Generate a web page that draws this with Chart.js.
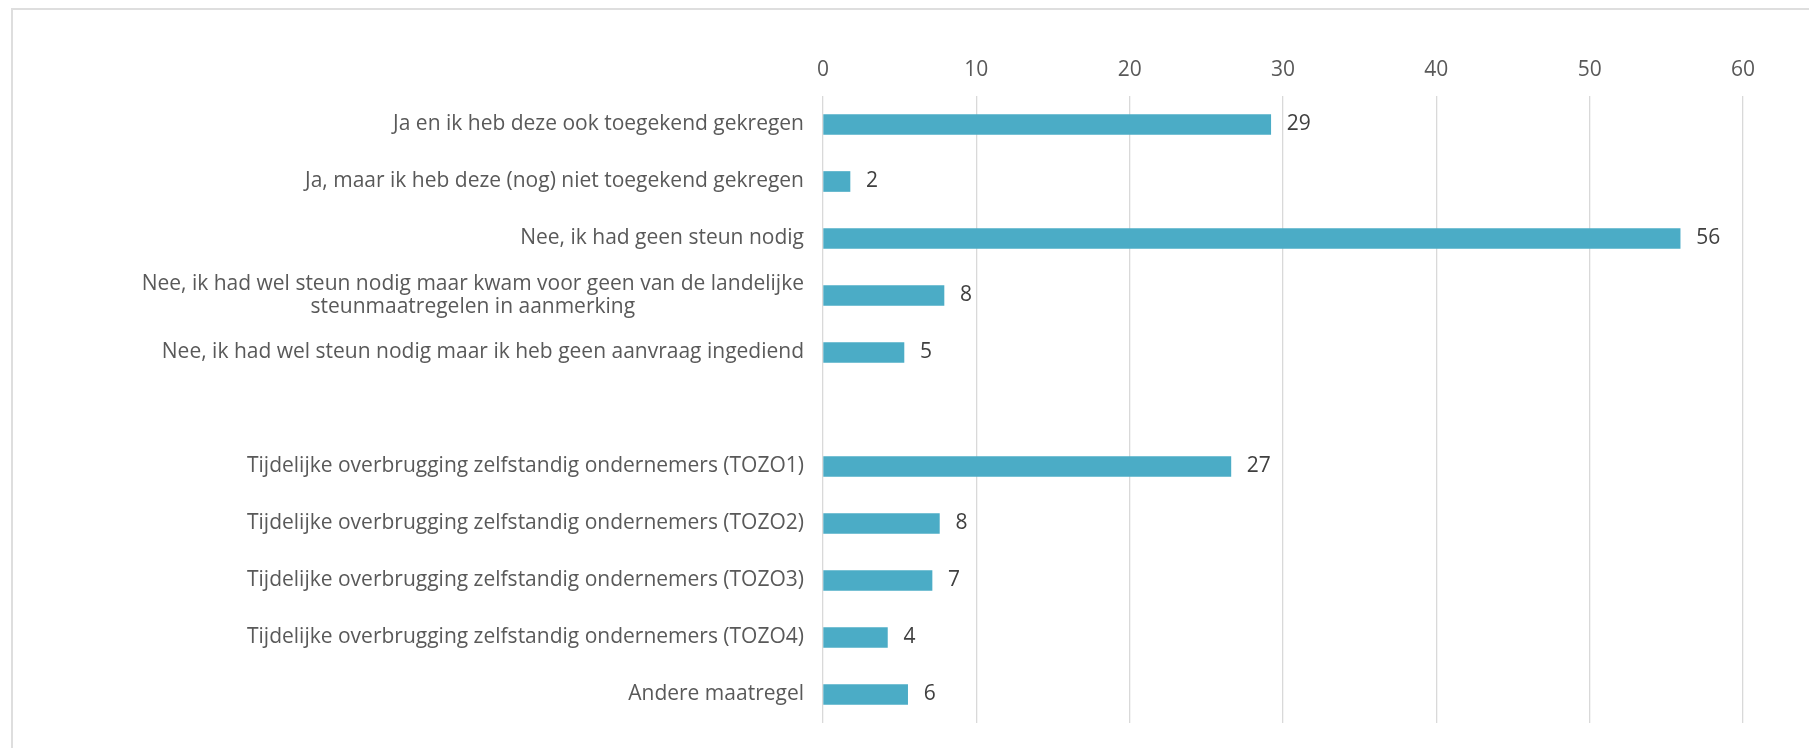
<!DOCTYPE html>
<html>
<head>
<meta charset="utf-8">
<script src="https://cdn.jsdelivr.net/npm/chart.js@4/dist/chart.umd.min.js"></script>
<style>
  html, body { margin: 0; padding: 0; background: #fff; overflow: hidden; }
  #frame {
    position: absolute; left: 11px; top: 8px; width: 1820px; height: 760px;
    border-left: 2px solid #dedede; border-top: 2px solid #dedede;
  }
  #wrap { position: absolute; left: 0; top: 0; width: 1809px; height: 748px; }
</style>
</head>
<body>
<div id="frame"></div>
<div id="wrap"><canvas id="chart"></canvas></div>
<script>
// categories (index 5 is the empty gap between the two groups)
const categories = [
  'Ja en ik heb deze ook toegekend gekregen',
  'Ja, maar ik heb deze (nog) niet toegekend gekregen',
  'Nee, ik had geen steun nodig',
  ['Nee, ik had wel steun nodig maar kwam voor geen van de landelijke', 'steunmaatregelen in aanmerking'],
  'Nee, ik had wel steun nodig maar ik heb geen aanvraag ingediend',
  '',
  'Tijdelijke overbrugging zelfstandig ondernemers (TOZO1)',
  'Tijdelijke overbrugging zelfstandig ondernemers (TOZO2)',
  'Tijdelijke overbrugging zelfstandig ondernemers (TOZO3)',
  'Tijdelijke overbrugging zelfstandig ondernemers (TOZO4)',
  'Andere maatregel'
]

// bar lengths (labels show them rounded)
const values = [29.2, 1.76, 55.9, 7.89, 5.28, null, 26.6, 7.59, 7.11, 4.2, 5.52]

const xTicks = [0, 10, 20, 30, 40, 50, 60]

const FONT = '"Open Sans", sans-serif'

// category labels on the left, multi-line ones centered as a block
const catLabels = {
  id: 'catLabels',
  afterDraw(chart) {
    const ctx = chart.ctx
    const y = chart.scales.y
    const right = chart.chartArea.left - 19
    ctx.save()
    ctx.font = '21px ' + FONT
    ctx.fillStyle = '#595959'
    ctx.textBaseline = 'middle'
    categories.forEach((c, i) => {
      const py = y.getPixelForValue(i)
      if (Array.isArray(c)) {
        const widths = c.map(l => ctx.measureText(l).width)
        const w = Math.max(...widths)
        const cx = right - w / 2
        ctx.textAlign = 'center'
        const lh = 23
        c.forEach((l, k) => {
          ctx.fillText(l, cx, py + (k - (c.length - 1) / 2) * lh)
        })
      } else {
        ctx.textAlign = 'right'
        ctx.fillText(c, right, py)
      }
    })
    ctx.restore()
  }
}

// value labels at the end of each bar
const valueLabels = {
  id: 'valueLabels',
  afterDatasetsDraw(chart) {
    const ctx = chart.ctx
    const meta = chart.getDatasetMeta(0)
    ctx.save()
    ctx.font = '21px ' + FONT
    ctx.fillStyle = '#404040'
    ctx.textAlign = 'left'
    ctx.textBaseline = 'middle'
    meta.data.forEach((bar, i) => {
      if (values[i] == null) return
      ctx.fillText(String(Math.round(values[i])), bar.x + 16, bar.y)
    })
    ctx.restore()
  }
}

new Chart(document.getElementById('chart'), {
  type: 'bar',
  data: {
    labels: categories.map((c, i) => i),
    datasets: [{
      data: values,
      backgroundColor: '#4BACC6',
      borderWidth: 0,
      barThickness: 20
    }]
  },
  options: {
    indexAxis: 'y',
    responsive: true,
    maintainAspectRatio: false,
    animation: false,
    events: [],
    layout: { padding: { left: 823, right: 66, top: 0, bottom: 25 } },
    plugins: {
      legend: { display: false },
      tooltip: { enabled: false }
    },
    scales: {
      x: {
        position: 'top',
        min: 0,
        max: 60,
        afterBuildTicks(scale) {
          scale.ticks = xTicks.map(v => ({ value: v }))
        },
        afterFit(scale) { scale.height = 96 },
        grid: { color: '#d9d9d9', lineWidth: 1.3, drawTicks: false },
        border: { display: false },
        ticks: {
          padding: 13,
          color: '#595959',
          font: { family: FONT, size: 21 }
        }
      },
      y: {
        display: false,
        grid: { display: false }
      }
    }
  },
  plugins: [catLabels, valueLabels]
})
</script>
</body>
</html>
